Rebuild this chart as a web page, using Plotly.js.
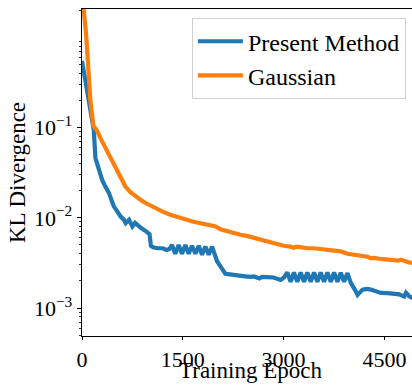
<!DOCTYPE html>
<html>
<head>
<meta charset="utf-8">
<script src="https://cdn.plot.ly/plotly-3.0.1.min.js"></script>
<style>
  html, body { margin: 0; padding: 0; overflow: hidden; background: #fff; }
  #chart { width: 418px; height: 389px; }
</style>
</head>
<body>
<div id="chart"></div>
<script>
// ---- data ----
const seriesNames = ["Present Method", "Gaussian"];

const presentEpoch = [0, 50, 100, 150, 175, 200, 250, 300, 350, 400, 450, 475, 525, 575, 620, 650, 700, 750, 790, 830, 880, 940, 990, 1005, 1025, 1060, 1120, 1200, 1260, 1300,
  1339, 1388, 1438, 1488, 1538, 1588, 1637, 1687, 1737, 1786, 1836, 1886, 1936, 1965, 2010, 2060, 2134, 2200, 2300, 2400, 2500, 2560, 2640, 2680, 2760, 2850, 2955, 3005,
  3055, 3105, 3154, 3204, 3254, 3304, 3353, 3403, 3453, 3503, 3552, 3602, 3652, 3702, 3751, 3801, 3851, 3900, 3950, 4000, 4060, 4100, 4175, 4240, 4298, 4370, 4448, 4550, 4646, 4720, 4795, 4821, 4870, 4925, 5000];
const presentKL = [0.55, 0.33, 0.20, 0.125, 0.094, 0.046, 0.033, 0.0263, 0.022, 0.0189, 0.0150, 0.0133, 0.0118, 0.0103, 0.0096, 0.0087, 0.0095, 0.0080, 0.0088, 0.0082, 0.0077, 0.0072, 0.0068, 0.0066, 0.0049, 0.0047, 0.0046, 0.0046, 0.0044, 0.0045,
  0.0050, 0.0040, 0.0050, 0.0040, 0.0050, 0.0040, 0.0049, 0.0040, 0.0049, 0.0039, 0.0048, 0.0039, 0.0048, 0.0040, 0.0033, 0.0029, 0.0024, 0.00236, 0.00234, 0.00226, 0.00222, 0.00224, 0.00213, 0.00222, 0.0022, 0.00218, 0.00205, 0.00218,
  0.00248, 0.00196, 0.00248, 0.00196, 0.00248, 0.00196, 0.00248, 0.00196, 0.00248, 0.00196, 0.00248, 0.00196, 0.00248, 0.00196, 0.00248, 0.00196, 0.00246, 0.00196, 0.00244, 0.0019, 0.0016, 0.00140, 0.00160, 0.00163, 0.00160, 0.00152, 0.00147, 0.00146, 0.00144, 0.00142, 0.00134, 0.00148, 0.00135, 0.00129, 0.00135];

const gaussEpoch = [0, 20, 60, 90, 124, 169, 224, 280, 339, 400, 473, 560, 646, 720, 796, 900, 960, 1045, 1120, 1200, 1313, 1400, 1480, 1560, 1642, 1720, 1800, 1880, 1990, 2060, 2150, 2250, 2358, 2450, 2550, 2657, 2750, 2850, 2925, 3000, 3100, 3150, 3200, 3254, 3350, 3450, 3552, 3650, 3750, 3851, 3950, 4050, 4149, 4250, 4300, 4350, 4448, 4550, 4650, 4700, 4746, 4800, 4870, 4925, 5000];
const gaussKL = [5.0, 2.2, 1.12, 0.47, 0.203, 0.105, 0.092, 0.075, 0.0616, 0.050, 0.0406, 0.030, 0.0222, 0.0192, 0.0172, 0.0153, 0.0144, 0.0133, 0.0125, 0.0117, 0.0108, 0.0104, 0.0099, 0.0095, 0.0091, 0.0088, 0.0085, 0.0083, 0.0080, 0.00745, 0.0071, 0.0068, 0.0065, 0.0063, 0.0060, 0.0058, 0.0055, 0.0052, 0.0050, 0.0049, 0.0048, 0.00465, 0.0048, 0.0047, 0.0046, 0.0046, 0.0045, 0.0044, 0.0043, 0.00424, 0.0040, 0.0039, 0.0038, 0.0037, 0.00355, 0.0036, 0.0035, 0.00345, 0.0034, 0.00335, 0.00343, 0.0033, 0.0032, 0.00315, 0.0031];

const xTickVals = [0, 1500, 3000, 4500];
const yTickVals = [0.001, 0.01, 0.1];
const yTickText = ["10<sup>\u22123</sup>", "10<sup>\u22122</sup>", "10<sup>\u22121</sup>"];
const yMinorDigits = [2, 3, 4, 5, 6, 7, 8, 9];
const xTitle = "Training Epoch";
const yTitle = "KL Divergence";

// ---- chart ----
const serif = "Liberation Serif";
const minorVals = [];
[0.0001, 0.001, 0.01, 0.1, 1].forEach(d => yMinorDigits.forEach(m => minorVals.push(m * d)));

const traces = [
  { x: presentEpoch, y: presentKL, name: seriesNames[0], mode: "lines",
    line: { color: "#1f77b4", width: 4.2 } },
  { x: gaussEpoch, y: gaussKL, name: seriesNames[1], mode: "lines",
    line: { color: "#ff7f0e", width: 4.2 } }
];

const layout = {
  width: 418, height: 389,
  margin: { l: 82, r: 0, t: 9, b: 53 },
  paper_bgcolor: "#fff", plot_bgcolor: "#fff",
  font: { family: serif, color: "#000", size: 22 },
  showlegend: true,
  legend: {
    x: 0.964, y: 0.972, xanchor: "right", yanchor: "top",
    bgcolor: "rgba(255,255,255,0.8)", bordercolor: "#d0d0d0", borderwidth: 1,
    itemwidth: 45,
    font: { family: serif, size: 24 }
  },
  annotations: [{
    text: xTitle, xref: "paper", yref: "paper", x: 0.5, y: 0,
    xanchor: "center", yanchor: "top", yshift: -20, showarrow: false,
    font: { family: serif, size: 23 }
  }],
  xaxis: {
    range: [0, 5000],
    tickmode: "array", tickvals: xTickVals,
    ticks: "outside", ticklen: 3, tickwidth: 1, tickcolor: "#000",
    showline: true, linecolor: "#000", linewidth: 1.3, mirror: true,
    showgrid: false, zeroline: false,
    tickfont: { family: serif, size: 22 }
  },
  yaxis: {
    type: "log",
    range: [Math.log10(4.9e-4), Math.log10(2.06)],
    tickmode: "array", tickvals: yTickVals, ticktext: yTickText,
    ticks: "outside", ticklen: 4, tickwidth: 1, tickcolor: "#000",
    minor: { tickmode: "array", tickvals: minorVals, ticks: "outside", ticklen: 2, tickwidth: 0.8, tickcolor: "#000", showgrid: false },
    showline: true, linecolor: "#000", linewidth: 1.3, mirror: true,
    showgrid: false, zeroline: false,
    tickfont: { family: serif, size: 22 },
    title: { text: yTitle, font: { family: serif, size: 23 }, standoff: 2 }
  }
};

Plotly.newPlot("chart", traces, layout, { staticPlot: true, displayModeBar: false });
</script>
</body>
</html>
